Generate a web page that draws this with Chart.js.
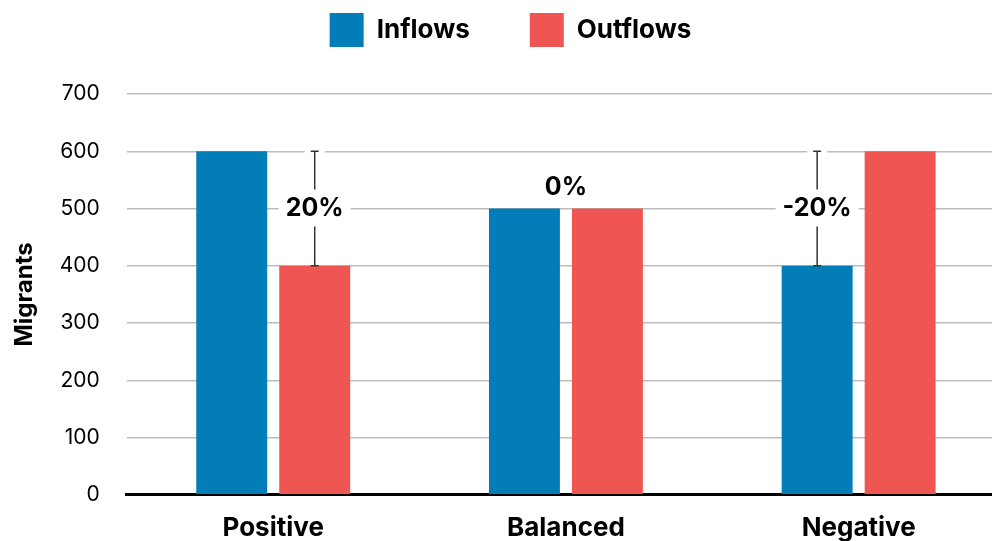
<!DOCTYPE html>
<html lang="en">
<head>
  <meta charset="UTF-8" />
  <title>Migration balance</title>
  <script src="https://cdn.jsdelivr.net/npm/chart.js"></script>
  <style>
    html, body { margin: 0; padding: 0; background: #fff; overflow: hidden; }
    #wrap { width: 1020px; height: 562px; }
  </style>
</head>
<body>
  <div id="wrap"><canvas id="migChart"></canvas></div>

  <script>
    const categories = ['Positive', 'Balanced', 'Negative'];
    const inflows = [600, 500, 400];
    const outflows = [400, 500, 600];
    const diffLabels = ['20%', '0%', '-20%'];
    const yTicks = [0, 100, 200, 300, 400, 500, 600, 700];

    const BLUE = '#027db7';
    const RED = '#f05651';
    const FONT = 'Inter, "Noto Sans", sans-serif';

    // extra room under the legend, and nudge it a bit to the right
    const legendGap = {
      id: 'legendGap',
      beforeInit(chart) {
        const legend = chart.legend;
        const fit = legend.fit;
        const draw = legend.draw;
        legend.fit = function () {
          fit.call(this);
          this.height += 37;
        };
        legend.draw = function () {
          this.ctx.save();
          this.ctx.translate(5, 0);
          draw.call(this);
          this.ctx.restore();
        };
      }
    };

    // draws the difference bracket + percentage between the two bars
    const diffPlugin = {
      id: 'diffPlugin',
      afterDatasetsDraw(chart) {
        const ctx = chart.ctx;
        const y = chart.scales.y;
        const metaIn = chart.getDatasetMeta(0);
        const metaOut = chart.getDatasetMeta(1);
        ctx.save();
        ctx.font = 'bold 25px ' + FONT;
        ctx.textAlign = 'center';
        ctx.textBaseline = 'middle';
        categories.forEach((c, i) => {
          const a = inflows[i], b = outflows[i];
          if (a === b) {
            const x = (metaIn.data[i].x + metaOut.data[i].x) / 2;
            ctx.fillStyle = '#000';
            ctx.fillText(diffLabels[i], x, y.getPixelForValue(a) - 21);
            return;
          }
          const x = a < b ? metaIn.data[i].x : metaOut.data[i].x;
          const yTop = y.getPixelForValue(Math.max(a, b));
          const yBot = y.getPixelForValue(Math.min(a, b));
          const yMid = (yTop + yBot) / 2;
          const tw = ctx.measureText(diffLabels[i]).width;
          // white gap at the top cap
          ctx.fillStyle = '#fff';
          ctx.fillRect(x - 10, yTop - 2, 20, 4);
          ctx.strokeStyle = '#333';
          ctx.lineWidth = 1.5;
          ctx.beginPath();
          ctx.moveTo(x, yTop); ctx.lineTo(x, yMid - 19);
          ctx.moveTo(x, yMid + 18); ctx.lineTo(x, yBot);
          ctx.moveTo(x - 4, yTop); ctx.lineTo(x + 4, yTop);
          ctx.moveTo(x - 4, yBot); ctx.lineTo(x + 4, yBot);
          ctx.stroke();
          ctx.fillStyle = '#fff';
          ctx.fillRect(x - tw / 2 - 7, yMid - 10, tw + 14, 20);
          ctx.fillStyle = '#000';
          ctx.fillText(diffLabels[i], x, yMid);
        });
        ctx.restore();
      }
    };

    const ctx = document.getElementById('migChart').getContext('2d');
    new Chart(ctx, {
      type: 'bar',
      data: {
        labels: categories,
        datasets: [
          { label: 'Inflows', data: inflows, backgroundColor: BLUE,
            categoryPercentage: 0.567, barPercentage: 0.855 },
          { label: 'Outflows', data: outflows, backgroundColor: RED,
            categoryPercentage: 0.567, barPercentage: 0.855 }
        ]
      },
      plugins: [legendGap, diffPlugin],
      options: {
        responsive: true,
        maintainAspectRatio: false,
        animation: false,
        layout: { padding: { left: 6, right: 15, top: -47, bottom: 0 } },
        plugins: {
          legend: {
            position: 'top',
            labels: {
              boxWidth: 34,
              boxHeight: 34,
              padding: 60,
              color: '#000',
              font: { family: FONT, size: 26, weight: 'bold' }
            }
          },
          tooltip: { enabled: false }
        },
        scales: {
          x: {
            grid: { display: false, drawTicks: false },
            border: { color: '#000', width: 3 },
            ticks: {
              color: '#000',
              padding: 18,
              font: { family: FONT, size: 26, weight: 'bold' }
            }
          },
          y: {
            min: 0,
            max: 700,
            afterBuildTicks: (axis) => { axis.ticks = yTicks.map(v => ({ value: v })); },
            grid: { color: '#bdbdbd', lineWidth: 1.5, drawTicks: false },
            border: { display: false },
            ticks: {
              color: '#000',
              padding: 27,
              font: { family: FONT, size: 21 }
            },
            title: {
              display: true,
              text: 'Migrants',
              color: '#000',
              padding: { top: 4, bottom: -6 },
              font: { family: FONT, size: 24, weight: 'bold' }
            }
          }
        }
      }
    });
  </script>
</body>
</html>
